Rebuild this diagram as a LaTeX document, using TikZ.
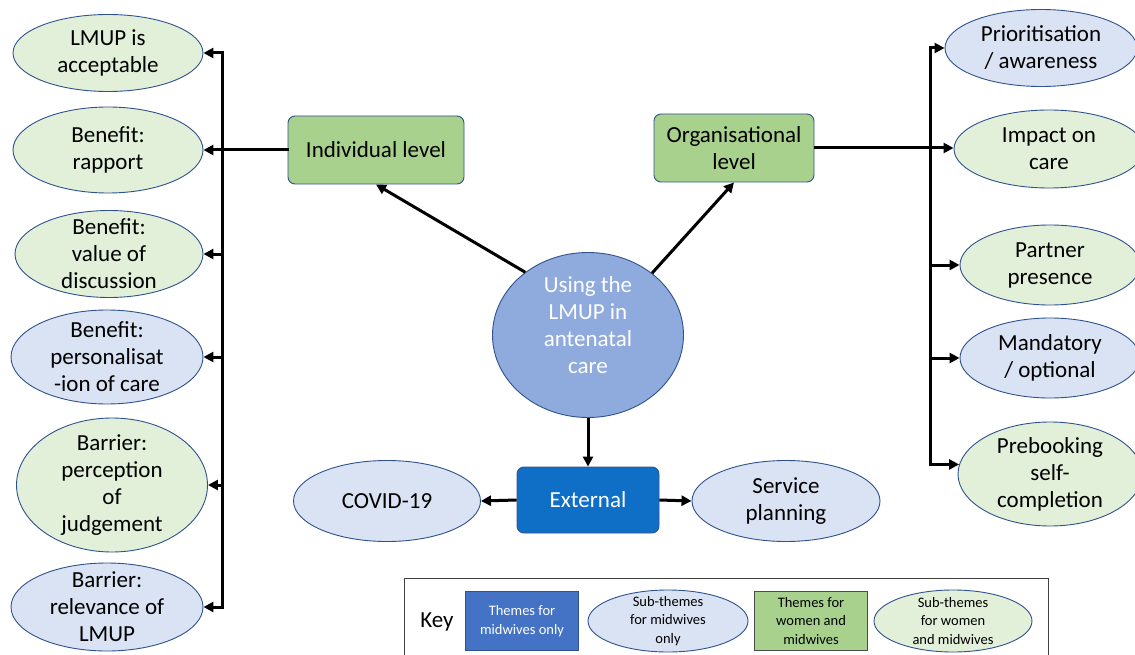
\documentclass[tikz,border=0pt]{standalone}
\usepackage{fontspec}
\setmainfont{Carlito}
\usetikzlibrary{shapes.geometric,arrows.meta}

\definecolor{edgeblue}{HTML}{2F528F}
\definecolor{subgreen}{HTML}{E2F0D9}
\definecolor{subblue}{HTML}{DAE3F3}
\definecolor{themegreen}{HTML}{A9D18E}
\definecolor{extblue}{HTML}{0F6FC6}
\definecolor{centreblue}{HTML}{8FAADC}
\definecolor{keyblue}{HTML}{4472C4}

\tikzset{
  big/.style={font=\fontsize{23}{27}\selectfont, align=center},
  small/.style={font=\fontsize{14.5}{18.5}\selectfont, align=center},
  subw/.style={ellipse, draw=edgeblue, line width=0.9pt, fill=subgreen, inner sep=0pt},
  subm/.style={ellipse, draw=edgeblue, line width=0.9pt, fill=subblue, inner sep=0pt},
  themew/.style={rectangle, rounded corners=7pt, draw=edgeblue, line width=0.9pt, fill=themegreen, big},
  themem/.style={rectangle, rounded corners=7pt, draw=edgeblue, line width=0.9pt, fill=extblue, text=white, big},
  arr/.style={line width=3pt, -{Triangle[length=10pt,width=10pt]}},
  bus/.style={line width=3pt, line cap=rect},
}

\begin{document}
\begin{tikzpicture}[x=1pt, y=-1pt]
\useasboundingbox[fill=white] (0,0) rectangle (1135,655);

\node[subw, minimum width=190pt, minimum height=77pt, label={[big]center:LMUP is\\acceptable}] (accept) at (108,53) {};
\node[subw, minimum width=190pt, minimum height=86pt, label={[big]center:Benefit:\\rapport}] (rapport) at (108,150) {};
\node[subw, minimum width=188pt, minimum height=87pt, label={[big]center:Benefit:\\value of\\discussion}] (discuss) at (109,254) {};
\node[subm, minimum width=192pt, minimum height=94pt, label={[big]center:Benefit:\\personalisat\\-ion of care}] (personal) at (107,357) {};
\node[subw, minimum width=191pt, minimum height=134pt, label={[big]center:Barrier:\\perception\\of\\judgement}] (judge) at (112,485) {};
\node[subm, minimum width=192pt, minimum height=88pt, label={[big]center:Barrier:\\relevance of\\LMUP}] (relev) at (107,607) {};

\node[subm, minimum width=192pt, minimum height=77pt, label={[big]center:Prioritisation\\/ awareness}] (prio) at (1041,48) {};
\node[subw, minimum width=190pt, minimum height=78pt, label={[big]center:Impact on\\care}] (impact) at (1049,149) {};
\node[subw, minimum width=180pt, minimum height=80pt, label={[big]center:Partner\\presence}] (partner) at (1050,265) {};
\node[subm, minimum width=180pt, minimum height=80pt, label={[big]center:Mandatory\\/ optional}] (mandat) at (1050,358) {};
\node[subw, minimum width=184pt, minimum height=104pt, label={[big]center:Prebooking\\self-\\completion}] (prebook) at (1050,474) {};

\node[themew, minimum width=176pt, minimum height=68pt] (indiv) at (376,150) {Individual level};
\node[themew, minimum width=160pt, minimum height=68pt] (orga) at (734,148) {Organisational\\level};
\node[ellipse, draw=edgeblue, line width=0.9pt, fill=centreblue, minimum width=191pt, minimum height=165pt,
  label={[big, text=white, yshift=10pt]center:Using the\\LMUP in\\antenatal\\care}] (centre) at (588,335) {};
\node[themem, minimum width=142pt, minimum height=66pt] (ext) at (588,500) {External};
\node[subm, minimum width=187pt, minimum height=81pt, label={[big]center:COVID-19}] (covid) at (387,501) {};
\node[subm, minimum width=188pt, minimum height=81pt, label={[big]center:Service\\planning}] (service) at (786,501) {};

\coordinate (lbus) at (222,0);
\coordinate (rbus) at (930,0);
\draw[bus] (lbus |- accept.east) -- (lbus |- relev.east);
\draw[bus] (indiv.west) -- (lbus |- indiv.west);
\foreach \n in {accept,rapport,discuss,personal,judge,relev}
  \draw[arr] (lbus |- \n.east) -- (\n.east);
\draw[bus] (rbus |- prio.west) -- (rbus |- prebook.174);
\draw[arr] (orga.east) -- (orga.east -| impact.west);
\foreach \n in {prio,partner,mandat}
  \draw[arr] (rbus |- \n.west) -- (\n.west);
\draw[arr] (rbus |- prebook.174) -- (prebook.174);

\draw[arr] (centre.135) -- (indiv.south);
\draw[arr] (centre.44) -- (orga.south);
\draw[arr] (centre.south) -- (ext.north);
\draw[arr] (ext.west) -- (covid.east);
\draw[arr] (ext.east) -- (service.west);

\node[draw=black!75, line width=1.2pt, minimum width=644pt, minimum height=90pt, anchor=north west] (keybox) at (404,578) {};
\node[big] (keylbl) at (437,622) {Key};
\node[rectangle, draw=edgeblue, line width=0.9pt, fill=keyblue, text=white, small, minimum width=113pt, minimum height=59pt] (keymt) at (522,621) {Themes for\\midwives only};
\node[subm, minimum width=160pt, minimum height=62pt, label={[small]center:Sub-themes\\for midwives\\only}] (keyms) at (668,621) {};
\node[rectangle, draw=black!70, line width=0.9pt, fill=themegreen, small, minimum width=113pt, minimum height=59pt] (keywt) at (811,621) {Themes for\\women and\\midwives};
\node[subw, minimum width=158pt, minimum height=62pt, label={[small]center:Sub-themes\\for women\\and midwives}] (keyws) at (953,621) {};
\end{tikzpicture}
\end{document}
